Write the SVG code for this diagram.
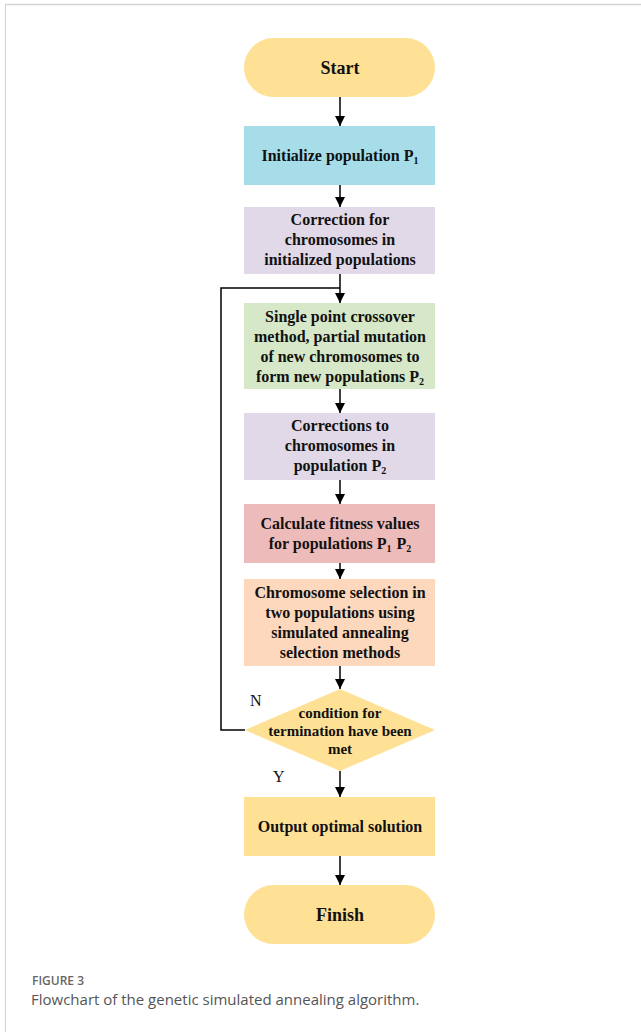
<svg xmlns="http://www.w3.org/2000/svg" width="641" height="1032" viewBox="0 0 641 1032">
<defs>
<marker id="ah" markerWidth="10" markerHeight="10" refX="10" refY="5" orient="auto" markerUnits="userSpaceOnUse" viewBox="0 0 10 10">
<path d="M0,0 L10,5 L0,10 Z" fill="#000"/>
</marker>
</defs>
<style>
.t{font-family:"Liberation Serif","Times New Roman",serif;font-weight:bold;font-size:16px;fill:#111;text-anchor:middle}
.d{font-size:15px}
.lbl{font-family:"Liberation Serif","Times New Roman",serif;font-size:16px;fill:#111}
.c{stroke:#000;stroke-width:1.5;fill:none}
.sub{font-size:10px}
</style>
<rect x="0" y="0" width="641" height="1032" fill="#fff"/>
<line x1="5" y1="4.5" x2="641" y2="4.5" stroke="#d4d4d4" stroke-width="1.5"/>
<line x1="5.5" y1="4" x2="5.5" y2="1032" stroke="#d4d4d4" stroke-width="1"/>

<g id="start"><rect x="244" y="38" width="191" height="59" rx="29.5" fill="#FFE196"/><text class="t" x="340" y="74" style="font-size:18px">Start</text></g>
<g id="init"><rect x="244" y="126" width="191" height="59" fill="#A6DDE8"/><text class="t" x="340" y="161">Initialize population P<tspan class="sub" dy="3">1</tspan></text></g>
<g id="correct1"><rect x="244" y="207" width="191" height="67" fill="#E1D8E8"/><text class="t" x="340" y="225">Correction for</text><text class="t" x="340" y="245">chromosomes in</text><text class="t" x="340" y="265">initialized populations</text></g>
<g id="crossover"><rect x="244" y="303" width="191" height="86" fill="#D6E8C8"/><text class="t" x="340" y="322">Single point crossover</text><text class="t" x="340" y="342">method, partial mutation</text><text class="t" x="340" y="362">of new chromosomes to</text><text class="t" x="340" y="382">form new populations P<tspan class="sub" dy="3">2</tspan></text></g>
<g id="correct2"><rect x="244" y="413" width="191" height="67" fill="#E1D8E8"/><text class="t" x="340" y="431">Corrections to</text><text class="t" x="340" y="451">chromosomes in</text><text class="t" x="340" y="471">population P<tspan class="sub" dy="3">2</tspan></text></g>
<g id="fitness"><rect x="244" y="504" width="191" height="59" fill="#EEBBBB"/><text class="t" x="340" y="529">Calculate fitness values</text><text class="t" x="340" y="549">for populations P<tspan class="sub" dy="3">1</tspan><tspan dx="5" dy="-3">P</tspan><tspan class="sub" dy="3">2</tspan></text></g>
<g id="selection"><rect x="244" y="579" width="191" height="87" fill="#FDD8BD"/><text class="t" x="340" y="598">Chromosome selection in</text><text class="t" x="340" y="618">two populations using</text><text class="t" x="340" y="638">simulated annealing</text><text class="t" x="340" y="658">selection methods</text></g>
<g id="condition"><polygon points="340,689 435,730 340,771 245,730" fill="#FFE196"/><text class="t d" x="340" y="718">condition for</text><text class="t d" x="340" y="736">termination have been</text><text class="t d" x="340" y="754">met</text></g>
<g id="output"><rect x="244" y="797" width="191" height="59" fill="#FFE196"/><text class="t" x="340" y="832">Output optimal solution</text></g>
<g id="finish"><rect x="244" y="885" width="191" height="59" rx="29.5" fill="#FFE196"/><text class="t" x="340" y="921" style="font-size:18px">Finish</text></g>

<g id="connectors">
<line class="c" x1="340" y1="97" x2="340" y2="126" marker-end="url(#ah)"/>
<line class="c" x1="340" y1="185" x2="340" y2="207" marker-end="url(#ah)"/>
<line class="c" x1="340" y1="274" x2="340" y2="303" marker-end="url(#ah)"/>
<line class="c" x1="340" y1="389" x2="340" y2="413" marker-end="url(#ah)"/>
<line class="c" x1="340" y1="480" x2="340" y2="504" marker-end="url(#ah)"/>
<line class="c" x1="340" y1="563" x2="340" y2="579" marker-end="url(#ah)"/>
<line class="c" x1="340" y1="666" x2="340" y2="689" marker-end="url(#ah)"/>
<line class="c" x1="340" y1="771" x2="340" y2="797" marker-end="url(#ah)"/>
<line class="c" x1="340" y1="856" x2="340" y2="885" marker-end="url(#ah)"/>
<polyline class="c" points="245,730 221,730 221,288 340,288"/>
<text class="lbl" x="250" y="706">N</text>
<text class="lbl" x="273" y="782">Y</text>
</g>

<text x="32" y="985" style="font-family:'Open Sans','Noto Sans',sans-serif;font-size:12px;font-weight:600;fill:#666">FIGURE 3</text>
<text x="31" y="1005" style="font-family:'Open Sans','Noto Sans',sans-serif;font-size:15px;fill:#555">Flowchart of the genetic simulated annealing algorithm.</text>
</svg>
